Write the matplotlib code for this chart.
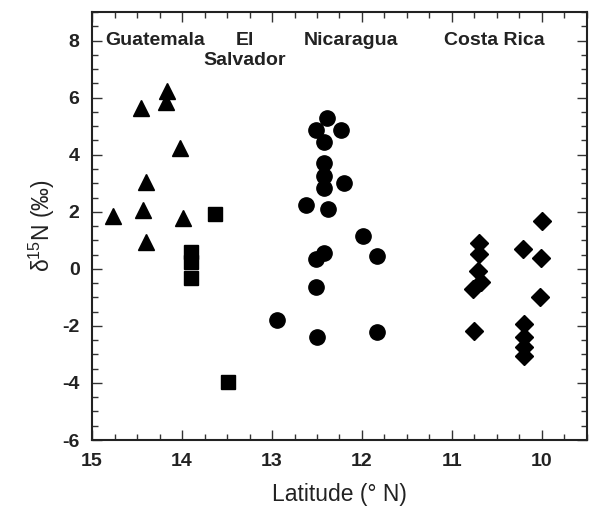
#! /usr/bin/env python3

import matplotlib
matplotlib.use('Agg')
import matplotlib.pyplot as plt
from matplotlib.ticker import MultipleLocator

plt.rcParams['font.family'] = ['Liberation Sans', 'DejaVu Sans']
plt.rcParams['mathtext.default'] = 'regular'
plt.rcParams['axes.unicode_minus'] = False

# Guatemala (triangles)
gua_lat = [14.77, 14.46, 14.43, 14.40, 14.40, 14.17, 14.18, 14.02, 13.99]
gua_d15n = [1.84, 5.65, 2.05, 3.03, 0.93, 6.25, 5.83, 4.25, 1.77]

# El Salvador (squares)
sal_lat = [13.63, 13.90, 13.90, 13.90, 13.49]
sal_d15n = [1.91, 0.58, 0.25, -0.33, -3.95]

# Nicaragua (circles)
nic_lat = [12.39, 12.51, 12.23, 12.42, 12.42, 12.42, 12.20, 12.42, 12.62, 12.38,
           11.99, 12.42, 12.51, 11.83, 12.51, 12.95, 12.50, 11.83]
nic_d15n = [5.30, 4.88, 4.88, 4.43, 3.70, 3.27, 3.00, 2.82, 2.22, 2.08,
            1.14, 0.55, 0.33, 0.44, -0.62, -1.80, -2.40, -2.22]

# Costa Rica (diamonds)
cr_lat = [10.70, 10.70, 10.71, 10.68, 10.77, 10.76,
          10.00, 10.21, 10.01, 10.02, 10.20, 10.20, 10.20, 10.20]
cr_d15n = [0.89, 0.51, -0.08, -0.45, -0.70, -2.19,
           1.66, 0.69, 0.37, -1.00, -1.92, -2.40, -2.75, -3.05]

regions = ['Guatemala', 'El\nSalvador', 'Nicaragua', 'Costa Rica']
region_x = [14.30, 13.30, 12.12, 10.53]

fig = plt.figure(figsize=(5.89, 5.15), dpi=100)
ax = fig.add_axes([0.1562, 0.1456, 0.8404, 0.831])

ax.plot(gua_lat, gua_d15n, '^', color='black', markersize=11, linestyle='none')
ax.plot(sal_lat, sal_d15n, 's', color='black', markersize=10, linestyle='none')
ax.plot(nic_lat, nic_d15n, 'o', color='black', markersize=11, linestyle='none')
ax.plot(cr_lat, cr_d15n, 'D', color='black', markersize=9.5, linestyle='none')

for name, x in zip(regions, region_x):
    ax.text(x, 8.3, name, ha='center', va='top', fontsize=14,
            fontweight='bold', color='#222222', linespacing=1.2)

ax.set_xlim(15, 9.5)
ax.set_ylim(-6, 9)
ax.xaxis.set_major_locator(MultipleLocator(1))
ax.xaxis.set_minor_locator(MultipleLocator(0.25))
ax.set_yticks([-6, -4, -2, 0, 2, 4, 6, 8])
ax.yaxis.set_minor_locator(MultipleLocator(0.5))

ax.tick_params(which='both', direction='in', top=True, right=True,
               labelsize=14, width=1.0, color='#333333')
ax.tick_params(which='major', length=7, pad=9)
ax.tick_params(which='minor', length=4)
for lbl in ax.get_xticklabels() + ax.get_yticklabels():
    lbl.set_fontweight('bold')
    lbl.set_color('#222222')

for sp in ax.spines.values():
    sp.set_linewidth(1.5)
    sp.set_color('#222222')

ax.set_xlabel('Latitude (° N)', fontsize=16.5, color='#222222', labelpad=10)
ax.set_ylabel('δ$^{15}$N (‰)', fontsize=16.5, color='#222222', labelpad=4)

fig.savefig('out.png', dpi=100)
